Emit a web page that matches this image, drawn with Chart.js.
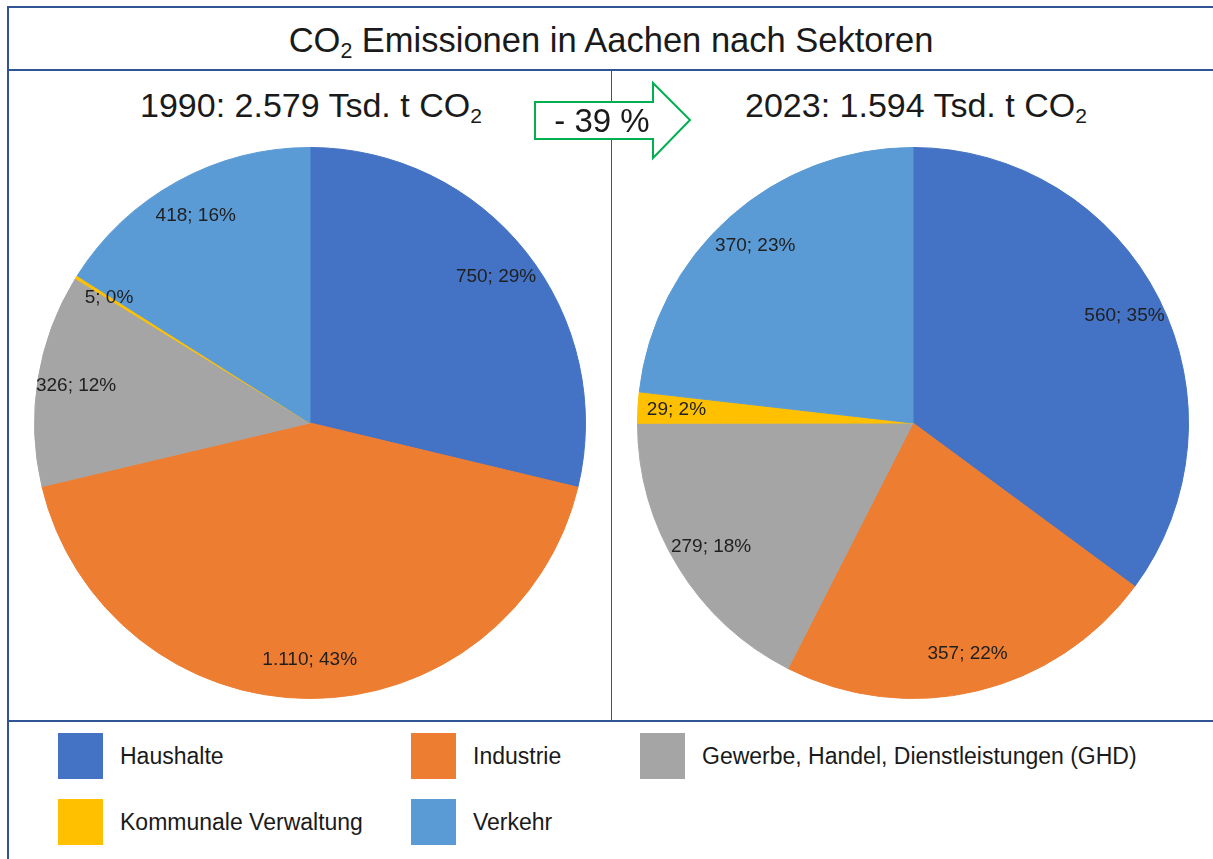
<!DOCTYPE html>
<html lang="de">
<head>
<meta charset="utf-8">
<title>CO2 Emissionen in Aachen nach Sektoren</title>
<script src="https://cdn.jsdelivr.net/npm/chart.js@4/dist/chart.umd.min.js"></script>
<style>
  html, body { margin: 0; padding: 0; background: #fff; }
  body { font-family: "Liberation Sans", Arial, sans-serif; color: #1a1a1a; }
  #page { position: relative; width: 1213px; height: 859px; overflow: hidden; }
  .line { position: absolute; background: #2f5597; }
  .txt { position: absolute; white-space: nowrap; line-height: 1; }
  sub { font-size: 0.62em; vertical-align: -0.3em; line-height: 0; }
  #title { top: 23px; left: 0; width: 1222px; text-align: center; font-size: 34.5px; }
  #sub1 { top: 88px; left: 140px; font-size: 34px; }
  #sub2 { top: 88px; left: 745px; font-size: 34px; }
  canvas { position: absolute; }
  #arrow { position: absolute; left: 530px; top: 78px; }
  #legend {
    position: absolute; left: 58px; top: 733px;
    display: grid; grid-template-columns: 353px 229px auto; row-gap: 20px;
  }
  .item { display: flex; align-items: center; height: 46px; font-size: 23px; color: #1a1a1a; }
  .sw { width: 45px; height: 46px; margin-right: 17px; flex: none; }
</style>
</head>
<body>
<div id="page">
  <!-- frame -->
  <div class="line" style="left:7px; top:6px; width:1210px; height:2px;"></div>
  <div class="line" style="left:7px; top:6px; width:2px; height:860px;"></div>
  <div class="line" style="left:7px; top:69px; width:1210px; height:2px;"></div>
  <div class="line" style="left:7px; top:720px; width:1210px; height:2px;"></div>
  <div class="line" style="left:611px; top:70px; width:1px; height:651px;"></div>

  <div id="title" class="txt">CO<sub>2</sub> Emissionen in Aachen nach Sektoren</div>
  <div id="sub1" class="txt"></div>
  <div id="sub2" class="txt"></div>

  <canvas id="pie1990" width="552" height="552" style="left:34px; top:147px;"></canvas>
  <canvas id="pie2023" width="552" height="552" style="left:637px; top:147px;"></canvas>

  <svg id="arrow" width="170" height="90" viewBox="0 0 170 90">
    <polygon points="5,24 123,24 123,5 160,42 123,80 123,61 5,61"
             fill="#fff" stroke="#00b050" stroke-width="2"/>
    <text id="changeText" x="72" y="54" text-anchor="middle"
          font-family="Liberation Sans, Arial, sans-serif" font-size="33" fill="#1a1a1a"></text>
  </svg>

  <div id="legend"></div>
</div>

<script>
/* ── Data ─────────────────────────────────────────────── */
const categories = ['Haushalte', 'Industrie', 'Gewerbe, Handel, Dienstleistungen (GHD)', 'Kommunale Verwaltung', 'Verkehr'];
const colors     = ['#4472c4', '#ed7d31', '#a5a5a5', '#ffc000', '#5b9bd5'];

const values1990 = [750, 1110, 326, 5, 418];
const pct1990    = [29, 43, 12, 0, 16];
const values2023 = [560, 357, 279, 29, 370];
const pct2023    = [35, 22, 18, 2, 23];

const years  = ['1990', '2023'];
const totals = ['2.579', '1.594'];
const change = '- 39 %';

/* ── Helpers ──────────────────────────────────────────── */
// German thousands separator: 1110 -> 1.110
const fmt = n => String(n).replace(/\B(?=(\d{3})+(?!\d))/g, '.');

// data labels "value; pct%" inside each slice
const sliceLabels = {
  id: 'sliceLabels',
  afterDatasetsDraw(chart, args, opts) {
    const { ctx } = chart;
    const meta = chart.getDatasetMeta(0);
    const vals = chart.data.datasets[0].data;
    ctx.save();
    ctx.font = '19px "Liberation Sans", Arial, sans-serif';
    ctx.fillStyle = '#1f1f1f';
    ctx.textAlign = 'center';
    ctx.textBaseline = 'middle';
    meta.data.forEach((arc, i) => {
      const p = arc.getProps(['x', 'y', 'startAngle', 'endAngle', 'outerRadius'], true);
      const mid = (p.startAngle + p.endAngle) / 2;
      const r = p.outerRadius * 0.86;
      ctx.fillText(`${fmt(vals[i])}; ${opts.pct[i]}%`, p.x + Math.cos(mid) * r, p.y + Math.sin(mid) * r);
    });
    ctx.restore();
  }
};

function makePie(id, values, pct) {
  return new Chart(document.getElementById(id), {
    type: 'pie',
    data: {
      labels: categories,
      datasets: [{
        data: values,
        backgroundColor: colors,
        borderColor: colors,
        borderWidth: 1,
      }]
    },
    options: {
      responsive: false,
      animation: false,
      layout: { padding: 0 },
      plugins: {
        legend: { display: false },
        tooltip: { enabled: false },
        sliceLabels: { pct },
      }
    },
    plugins: [sliceLabels]
  });
}

/* ── Headings ─────────────────────────────────────────── */
document.getElementById('sub1').innerHTML = `${years[0]}: ${totals[0]} Tsd. t CO<sub>2</sub>`;
document.getElementById('sub2').innerHTML = `${years[1]}: ${totals[1]} Tsd. t CO<sub>2</sub>`;
document.getElementById('changeText').textContent = change;

/* ── Charts ───────────────────────────────────────────── */
makePie('pie1990', values1990, pct1990);
makePie('pie2023', values2023, pct2023);

/* ── Legend ───────────────────────────────────────────── */
const legend = document.getElementById('legend');
categories.forEach((name, i) => {
  const item = document.createElement('div');
  item.className = 'item';
  item.innerHTML = `<span class="sw" style="background:${colors[i]}"></span><span>${name}</span>`;
  legend.appendChild(item);
});
</script>
</body>
</html>
